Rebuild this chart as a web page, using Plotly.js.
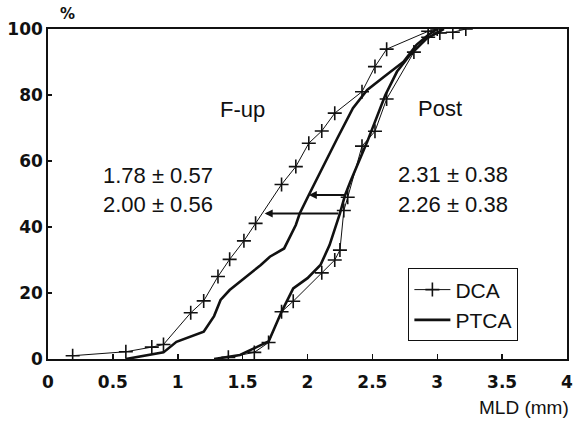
<!DOCTYPE html>
<html>
<head>
<meta charset="utf-8">
<script src="https://cdn.plot.ly/plotly-3.0.1.min.js"></script>
<style>html,body{margin:0;padding:0;background:#fff;}#chart{width:575px;height:421px;}</style>
</head>
<body>
<div id="chart"></div>
<script>
// Cumulative distributions of MLD (mm) vs cumulative %
const dcaFupX  = [0.19, 0.60, 0.80, 0.89, 1.10, 1.20, 1.31, 1.40, 1.51, 1.60, 1.80, 1.91, 2.01, 2.11, 2.21, 2.42, 2.52, 2.61, 2.93, 3.00];
const dcaFupY  = [1.0, 2.2, 3.6, 4.4, 14.0, 17.6, 25.0, 30.2, 35.8, 41.1, 52.9, 58.3, 65.4, 69.1, 74.5, 81.0, 88.6, 93.9, 99.3, 100];

const ptcaFupX = [0.60, 0.89, 0.99, 1.20, 1.28, 1.33, 1.40, 1.53, 1.64, 1.71, 1.82, 1.91, 1.94, 2.01, 2.10, 2.23, 2.35, 2.46, 2.59, 2.74, 2.84, 2.93, 3.00];
const ptcaFupY = [0, 2.0, 5.2, 8.3, 13.0, 17.9, 20.9, 24.9, 28.5, 31.0, 33.5, 40.6, 44.1, 49.7, 56.8, 66.9, 76.0, 81.5, 85.5, 90.1, 95.2, 98.2, 100];

const dcaPostX = [1.39, 1.59, 1.70, 1.80, 1.89, 2.11, 2.21, 2.25, 2.28, 2.31, 2.42, 2.52, 2.61, 2.82, 2.93, 3.02, 3.12, 3.22];
const dcaPostY = [0.5, 2.0, 5.0, 14.3, 17.5, 26.1, 30.0, 33.0, 45.0, 49.0, 64.5, 69.0, 78.8, 93.0, 97.5, 98.8, 99.0, 100];

const ptcaPostX = [1.28, 1.48, 1.64, 1.70, 1.80, 1.89, 2.00, 2.10, 2.17, 2.25, 2.29, 2.33, 2.46, 2.53, 2.60, 2.69, 2.79, 2.92, 3.05];
const ptcaPostY = [0, 1.2, 4.2, 5.3, 14.3, 21.4, 24.5, 28.5, 34.5, 44.1, 49.7, 53.7, 65.8, 72.9, 80.0, 87.1, 92.1, 97.2, 100];

// horizontal connector arrows: [tipX, tailX, y]
const arrowTipX  = [2.01, 1.67];
const arrowTailX = [2.30, 2.25];
const arrowY     = [49.7, 44.1];

// statistics text
const statLabels = ["F-up", "Post"];
const statFup  = ["1.78 ± 0.57", "2.00 ± 0.56"];
const statPost = ["2.31 ± 0.38", "2.26 ± 0.38"];

const xTickVals = [0, 0.5, 1, 1.5, 2, 2.5, 3, 3.5, 4];
const xTickText = ["0", "0.5", "1", "1.5", "2", "2.5", "3", "3.5", "4"];
const yTickVals = [0, 20, 40, 60, 80, 100];

const dcaStyle = {
  mode: 'lines+markers',
  line: {color: '#111', width: 1},
  marker: {symbol: 'cross-thin', size: 10, color: '#111', line: {color: '#111', width: 1.6}}
};
const ptcaStyle = {mode: 'lines', line: {color: '#111', width: 2.6}};

const traces = [
  Object.assign({x: dcaFupX, y: dcaFupY, name: 'DCA', legendgroup: 'dca', showlegend: true}, dcaStyle),
  Object.assign({x: ptcaFupX, y: ptcaFupY, name: 'PTCA', legendgroup: 'ptca', showlegend: true}, ptcaStyle),
  Object.assign({x: dcaPostX, y: dcaPostY, name: 'DCA', legendgroup: 'dca', showlegend: false}, dcaStyle),
  Object.assign({x: ptcaPostX, y: ptcaPostY, name: 'PTCA', legendgroup: 'ptca', showlegend: false}, ptcaStyle)
];

const numFont = {family: 'Liberation Sans, Arial, sans-serif', size: 22, color: '#111'};
const annotations = [];
for (let i = 0; i < arrowY.length; i++) {
  annotations.push({
    x: arrowTipX[i], y: arrowY[i], ax: arrowTailX[i], ay: arrowY[i],
    xref: 'x', yref: 'y', axref: 'x', ayref: 'y',
    text: '', showarrow: true, arrowhead: 2, arrowsize: 0.8, arrowwidth: 2, arrowcolor: '#111'
  });
}
annotations.push({x: 1.50, y: 75.5, xref: 'x', yref: 'y', text: statLabels[0], showarrow: false, font: numFont});
annotations.push({x: 3.02, y: 76, xref: 'x', yref: 'y', text: statLabels[1], showarrow: false, font: numFont});
annotations.push({x: 0.85, y: 55.5, xref: 'x', yref: 'y', text: statFup[0], showarrow: false, font: numFont});
annotations.push({x: 0.85, y: 46.7, xref: 'x', yref: 'y', text: statFup[1], showarrow: false, font: numFont});
annotations.push({x: 3.12, y: 55.8, xref: 'x', yref: 'y', text: statPost[0], showarrow: false, font: numFont});
annotations.push({x: 3.12, y: 46.7, xref: 'x', yref: 'y', text: statPost[1], showarrow: false, font: numFont});
annotations.push({x: 0.019, y: 1.045, xref: 'paper', yref: 'paper', yanchor: 'middle', text: '<b>%</b>', showarrow: false,
  font: {family: 'DejaVu Sans, sans-serif', size: 15, color: '#111'}});
annotations.push({x: 1.008, y: -0.148, xref: 'paper', yref: 'paper', xanchor: 'right', yanchor: 'middle', text: 'MLD (mm)', showarrow: false,
  font: {family: 'Liberation Sans, Arial, sans-serif', size: 19, color: '#111'}});

const tickFont = {family: 'DejaVu Sans, sans-serif', size: 17, color: '#111', weight: 'bold'};

const layout = {
  width: 575, height: 421,
  margin: {l: 48, r: 8, t: 29, b: 62, pad: 0},
  paper_bgcolor: '#fff', plot_bgcolor: '#fff',
  showlegend: true,
  legend: {
    x: 0.694, y: 0.275, xanchor: 'left', yanchor: 'top',
    bordercolor: '#111', borderwidth: 1.2, bgcolor: '#fff',
    font: {family: 'Liberation Sans, Arial, sans-serif', size: 21, color: '#111'},
    tracegroupgap: 0, itemwidth: 36
  },
  xaxis: {
    range: [0, 4], tickvals: xTickVals, ticktext: xTickText,
    ticks: 'inside', ticklen: 5, tickwidth: 1.5, tickcolor: '#111',
    showline: true, linecolor: '#111', linewidth: 1.6, mirror: true,
    showgrid: false, zeroline: false, tickfont: tickFont, ticklabelstandoff: 7
  },
  yaxis: {
    range: [0, 100], tickvals: yTickVals,
    ticks: 'inside', ticklen: 4, tickwidth: 1.5, tickcolor: '#111',
    showline: true, linecolor: '#111', linewidth: 1.8, mirror: true,
    showgrid: false, zeroline: false, tickfont: tickFont, ticklabelstandoff: 0
  },
  annotations: annotations
};

Plotly.newPlot('chart', traces, layout, {staticPlot: true, displayModeBar: false});
</script>
</body>
</html>
